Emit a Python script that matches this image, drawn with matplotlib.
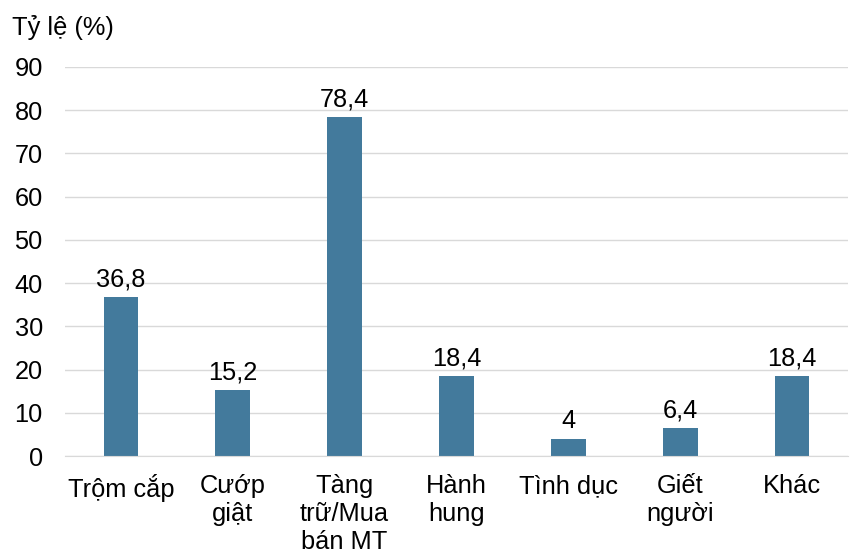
import numpy as np
import matplotlib
matplotlib.use('Agg')
import matplotlib.pyplot as plt

plt.rcParams['font.family'] = ['Liberation Sans', 'DejaVu Sans']

categories = ['Trộm cắp', 'Cướp\ngiật', 'Tàng\ntrữ/Mua\nbán MT', 'Hành\nhung',
              'Tình dục', 'Giết\nngười', 'Khác']
values = [36.8, 15.2, 78.4, 18.4, 4, 6.4, 18.4]
value_labels = ['36,8', '15,2', '78,4', '18,4', '4', '6,4', '18,4']
yticks = [0, 10, 20, 30, 40, 50, 60, 70, 80, 90]

bar_color = '#437a9c'
grid_color = '#d9d9d9'
fs = 18.3

fig = plt.figure(figsize=(8.58, 5.53), dpi=100)
ax = fig.add_axes([65/858, (553-456)/553, (848-65)/858, (456-67)/553])

x = np.arange(len(categories))
ax.bar(x, values, width=0.31, color=bar_color, zorder=3)

for xi, v, lab in zip(x, values, value_labels):
    ax.annotate(lab, (xi, v), xytext=(0, 4), textcoords='offset points',
                ha='center', va='bottom', fontsize=fs)

ax.set_xlim(-0.5, len(categories) - 0.5)
ax.set_ylim(0, 90)
ax.set_yticks(yticks)
ax.set_yticklabels([str(t) for t in yticks], fontsize=fs)
ax.set_xticks(x)
ax.set_xticklabels(categories, fontsize=fs, linespacing=1.2)
ax.tick_params(axis='both', length=0)
ax.tick_params(axis='y', pad=16)
ax.tick_params(axis='x', pad=13)

ax.yaxis.grid(True, color=grid_color, lw=1, zorder=0)
for s in ['top', 'right', 'left']:
    ax.spines[s].set_visible(False)
ax.spines['bottom'].set_color(grid_color)
ax.spines['bottom'].set_zorder(4)

fig.text(12/858, 1 - 28/553, 'Tỷ lệ (%)', fontsize=fs, ha='left', va='center')

fig.savefig('out.png', dpi=100)
